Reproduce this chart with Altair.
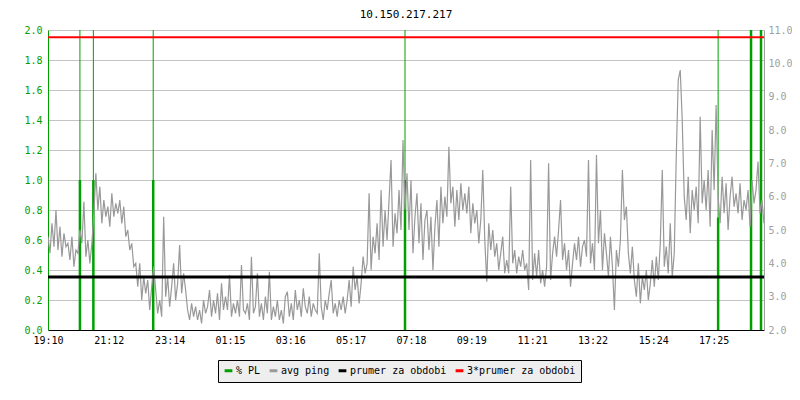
import altair as alt
import pandas as pd
import numpy as np

MONO = "DejaVu Sans Mono"
title_text = "10.150.217.217"
series_names = ["% PL", "avg ping", "prumer za obdobi", "3*prumer za obdobi"]
series_colors = ["#00a000", "#999999", "#000000", "#ff0000"]

x_tick_minutes = [0, 122, 244, 365, 486, 607, 728, 849, 971, 1092, 1214, 1335]
x_tick_labels = ["19:10", "21:12", "23:14", "01:15", "03:16", "05:17",
                 "07:18", "09:19", "11:21", "13:22", "15:24", "17:25"]
x_end = 1436

left_ticks = [0.0, 0.2, 0.4, 0.6, 0.8, 1.0, 1.2, 1.4, 1.6, 1.8, 2.0]
right_ticks = [2, 3, 4, 5, 6, 7, 8, 9, 10, 11]

# avg ping, one sample every 4 minutes from 19:10
ping_step = 4
ping_values = [
    4.8, 4.3, 5.2, 4.5, 5.6, 4.4, 5.1, 4.2, 4.9, 4.5,
    4.6, 4.1, 4.8, 3.9, 4.4, 4.3, 5.0, 4.6, 5.85, 4.2,
    4.7, 4.0, 4.6, 5.5, 6.7, 5.6, 6.3, 5.2, 5.9, 5.4,
    5.7, 5.1, 6.1, 5.4, 5.8, 5.5, 5.9, 5.2, 5.7, 4.8,
    5.0, 4.4, 4.6, 3.9, 4.0, 3.3, 4.0, 2.9, 3.6, 3.1,
    3.5, 2.6, 3.3, 3.9, 3.2, 2.5, 2.9, 2.4, 5.4, 3.0,
    3.6, 2.7, 3.3, 4.0, 2.9, 3.4, 4.55, 3.1, 3.7, 3.2,
    2.6, 2.3, 2.8, 2.4, 2.7, 2.3, 2.6, 2.2, 2.9, 2.5,
    2.7, 3.2, 2.4, 2.9, 2.5, 3.1, 2.3, 3.4, 2.6, 3.0,
    2.6, 3.65, 2.4, 2.8, 2.5, 2.9, 2.4, 3.95, 2.6, 2.5,
    2.8, 2.3, 4.2, 2.5, 2.7, 3.7, 2.4, 2.8, 2.3, 3.0,
    2.5, 3.75, 2.3, 2.7, 2.4, 2.9, 2.3, 2.6, 2.2, 3.0,
    3.15, 2.4, 2.8, 2.3, 3.2, 2.6, 2.9, 2.4, 3.25, 2.7,
    2.5, 3.0, 2.4, 2.8, 2.6, 2.5, 4.3, 2.7, 2.3, 2.9,
    2.6, 3.1, 3.5, 2.5, 2.8, 2.4, 2.9, 2.6, 3.0, 2.5,
    2.9, 3.5, 2.7, 3.9, 3.2, 3.6, 2.8, 3.4, 4.2, 3.7,
    4.0, 6.1, 3.8, 4.8, 4.3, 5.2, 4.1, 6.2, 4.5, 5.6,
    4.7, 5.9, 7.1, 4.5, 5.5, 4.9, 6.2, 5.0, 7.7, 5.6,
    6.7, 5.0, 6.5, 4.3, 5.4, 6.1, 4.6, 5.8, 4.1, 5.3,
    5.6, 4.4, 5.4, 3.8, 5.1, 5.9, 4.5, 6.3, 5.2, 6.0,
    5.4, 7.5, 5.8, 6.3, 5.1, 6.2, 5.3, 6.4, 5.6, 6.1,
    5.5, 6.3, 4.9, 5.8, 5.2, 5.6, 4.6, 5.3, 6.8, 4.7,
    3.45, 5.2, 4.4, 5.0, 4.2, 4.6, 3.8, 4.3, 4.8, 3.7,
    4.1, 3.7, 6.3, 4.0, 4.4, 3.7, 4.2, 3.9, 4.4, 3.8,
    4.0, 3.2, 7.1, 3.5, 4.3, 3.6, 4.4, 3.4, 3.8, 3.3,
    3.9, 7.0, 3.5, 4.3, 4.8, 4.2, 5.0, 5.9, 4.1, 4.6,
    3.8, 4.4, 3.3, 4.0, 4.6, 4.1, 4.8, 3.9, 4.5, 4.7,
    4.2, 7.1, 4.0, 4.6, 3.8, 7.25, 4.6, 5.6, 3.8, 4.9,
    4.3, 3.6, 4.8, 3.9, 2.6, 4.4, 3.9, 4.7, 6.8, 5.3,
    5.7, 4.3, 3.7, 4.5, 3.5, 3.0, 4.0, 2.8, 3.6, 3.2,
    3.8, 2.9, 3.4, 4.1, 3.3, 4.2, 3.5, 4.6, 6.8, 3.9,
    4.5, 3.7, 5.2, 3.6, 4.3, 7.2, 9.5, 9.8, 8.3, 6.0,
    5.3, 6.6, 4.9, 6.2, 5.6, 6.3, 5.2, 8.4, 5.8, 6.5,
    5.6, 6.8, 5.1, 8.0, 6.2, 8.75, 6.0, 5.2, 6.6, 5.5,
    6.4, 5.0, 6.0, 6.6, 5.7, 6.1, 5.5, 6.4, 5.3, 5.9,
    5.6, 6.2, 5.1, 6.5, 5.8, 6.2, 7.05, 5.5, 5.9, 5.2,
]

# packet loss spikes (minutes from 19:10)
pl_minutes = [64, 91, 211, 716, 1344, 1410, 1430]
pl_peak = [2.0, 2.0, 2.0, 2.0, 2.0, 2.0, 2.0]
pl_level = [1.0, 1.0, 1.0, 1.0, 0.75, 2.0, 2.0]

mean_value = 3.59
mean3_value = 10.78

ping_df = pd.DataFrame({"t": np.arange(len(ping_values)) * ping_step,
                        "v": ping_values, "s": "avg ping"})
pl_df = pd.DataFrame({"t": pl_minutes, "peak": pl_peak, "level": pl_level,
                      "zero": 0.0, "s": "% PL"})
mean_df = pd.DataFrame({"v": [mean_value], "s": ["prumer za obdobi"]})
mean3_df = pd.DataFrame({"v": [mean3_value], "s": ["3*prumer za obdobi"]})

label_expr = "[" + ",".join("'%s'" % l for l in x_tick_labels) + "][indexof([" + \
    ",".join(str(m) for m in x_tick_minutes) + "], datum.value)]"

x_axis = alt.Axis(values=x_tick_minutes, labelExpr=label_expr, title=None,
                  grid=False, ticks=False, domainColor="black", domainWidth=1,
                  labelFont=MONO, labelFontSize=10, labelColor="black",
                  labelPadding=5, labelFlush=False)
x_enc = alt.X("t:Q", scale=alt.Scale(domain=[0, x_end], nice=False, zero=False),
              axis=x_axis)

legend = alt.Legend(title=None, orient="none", legendX=170, legendY=330,
                    direction="horizontal", columns=4, symbolType="stroke",
                    symbolStrokeWidth=3, symbolSize=60, labelFont=MONO,
                    labelFontSize=10, labelColor="black", fillColor="#eeeeee",
                    strokeColor="black", padding=5, columnPadding=2,
                    labelOffset=2)
color_enc = alt.Color("s:N", scale=alt.Scale(domain=series_names, range=series_colors),
                      legend=legend)

left_axis = alt.Axis(orient="left", values=left_ticks, format=".1f", title=None,
                     labelColor="#00a000", domainColor="#00a000", ticks=False,
                     grid=True, gridColor="#c4c4c4", labelFont=MONO,
                     labelFontSize=10, labelPadding=6)
left_scale = alt.Scale(domain=[0, 2], nice=False, zero=False)

right_axis = alt.Axis(orient="right", values=right_ticks, format=".1f", title=None,
                      labelColor="#a0a0a0", domainColor="#a0a0a0", ticks=False,
                      grid=False, labelFont=MONO, labelFontSize=10, labelPadding=4)
right_scale = alt.Scale(domain=[2, 11], nice=False, zero=False)

pl_thin = alt.Chart(pl_df).mark_rule(strokeWidth=1, clip=True).encode(
    x=x_enc,
    y=alt.Y("zero:Q", scale=left_scale, axis=left_axis),
    y2="peak:Q",
    color=color_enc,
)
pl_thick = alt.Chart(pl_df).mark_rule(strokeWidth=2.5, clip=True).encode(
    x=x_enc,
    y=alt.Y("zero:Q", scale=left_scale, axis=left_axis),
    y2="level:Q",
    color=color_enc,
)
left = alt.layer(pl_thin, pl_thick)

ping_line = alt.Chart(ping_df).mark_line(strokeWidth=1.2, clip=True).encode(
    x=x_enc,
    y=alt.Y("v:Q", scale=right_scale, axis=right_axis),
    color=color_enc,
)
mean_rule = alt.Chart(mean_df).mark_rule(strokeWidth=3).encode(
    y=alt.Y("v:Q", scale=right_scale, axis=right_axis),
    color=color_enc,
)
mean3_rule = alt.Chart(mean3_df).mark_rule(strokeWidth=2).encode(
    y=alt.Y("v:Q", scale=right_scale, axis=right_axis),
    color=color_enc,
)
right = alt.layer(ping_line, mean_rule, mean3_rule)

chart = alt.layer(left, right).resolve_scale(y="independent").properties(
    width=716, height=300,
    padding={"left": 40, "top": 22, "right": 28, "bottom": 62},
    autosize=alt.AutoSizeParams(type="none"),
    title=alt.TitleParams(title_text, font=MONO, fontSize=11, fontWeight="normal",
                          color="black", anchor="middle", offset=-6, frame="group",
                          baseline="bottom"),
).configure_view(strokeWidth=0)

chart.save("out.html", embed_options={"renderer": "svg", "actions": False})
